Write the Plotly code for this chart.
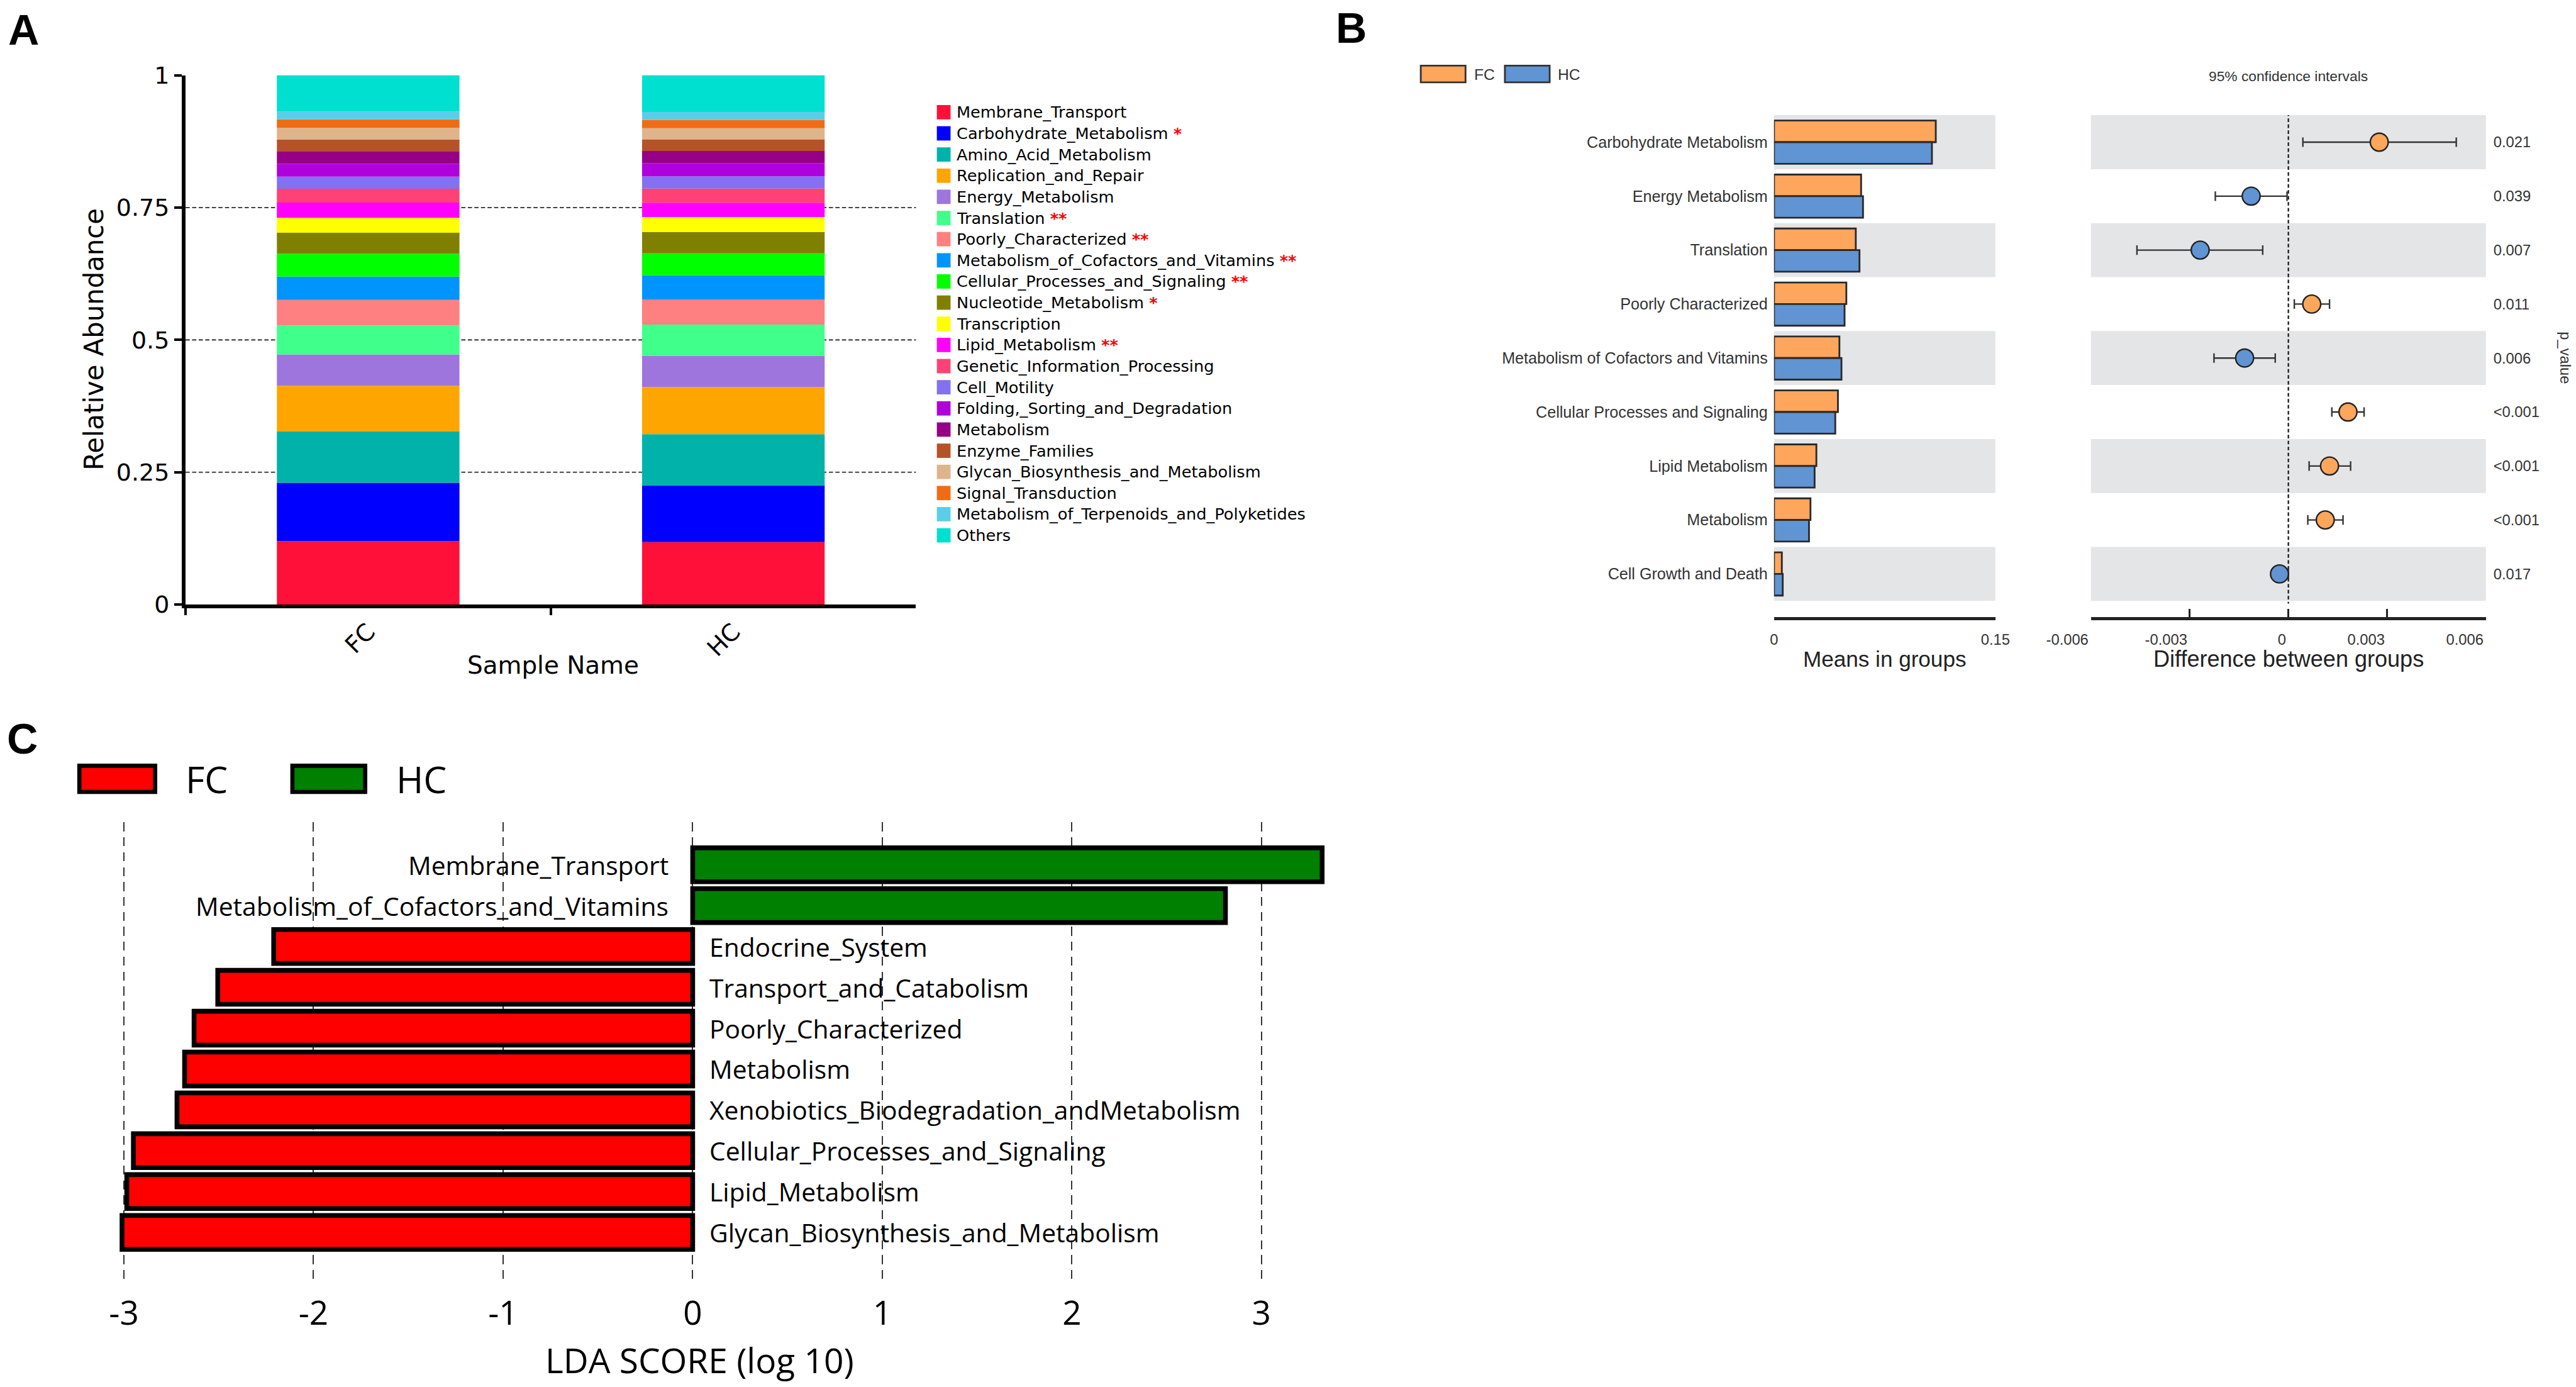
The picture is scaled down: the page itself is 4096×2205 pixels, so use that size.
import numpy as np
import plotly.graph_objects as go

W_REF, H_REF = 4317, 2324
R = 4096 / W_REF


def X(p):
    return p / W_REF


def Y(p):
    return 1 - p / H_REF


def S(v):
    return v * R


def SI(v):
    return int(round(v * R))


# ---------------- Panel A data ----------------
samples_A = ["FC", "HC"]
pathways_A = [
    "Membrane_Transport", "Carbohydrate_Metabolism", "Amino_Acid_Metabolism",
    "Replication_and_Repair", "Energy_Metabolism", "Translation",
    "Poorly_Characterized", "Metabolism_of_Cofactors_and_Vitamins",
    "Cellular_Processes_and_Signaling", "Nucleotide_Metabolism", "Transcription",
    "Lipid_Metabolism", "Genetic_Information_Processing", "Cell_Motility",
    "Folding,_Sorting_and_Degradation", "Metabolism", "Enzyme_Families",
    "Glycan_Biosynthesis_and_Metabolism", "Signal_Transduction",
    "Metabolism_of_Terpenoids_and_Polyketides", "Others",
]
signif_A = ["", "*", "", "", "", "**", "**", "**", "**", "*", "", "**",
            "", "", "", "", "", "", "", "", ""]
abund_FC = [0.120, 0.110, 0.0975, 0.086, 0.059, 0.055, 0.048, 0.044, 0.043, 0.040,
            0.028, 0.029, 0.026, 0.023, 0.024, 0.024, 0.022, 0.022, 0.016, 0.015, 0.0685]
abund_HC = [0.118, 0.107, 0.097, 0.089, 0.059, 0.059, 0.0475, 0.0455, 0.0415, 0.0405,
            0.028, 0.027, 0.027, 0.023, 0.025, 0.023, 0.022, 0.021, 0.0155, 0.015, 0.0695]
colors_A = ["#ff1038", "#0000ff", "#00b2a9", "#ffa500", "#9e75dd", "#40ff8a",
            "#ff8080", "#0094ff", "#00ff00", "#808000", "#ffff00", "#ff00ff",
            "#ff4275", "#8470f2", "#b000dc", "#950086", "#b65228", "#deb48a",
            "#f06c14", "#5bcde9", "#00e0d0"]
yticks_A = [0, 0.25, 0.5, 0.75, 1]
yticktext_A = ["0", "0.25", "0.5", "0.75", "1"]
grid_A = [0.25, 0.5, 0.75]

# ---------------- Panel B data ----------------
cats_B = ["Carbohydrate Metabolism", "Energy Metabolism", "Translation",
          "Poorly Characterized", "Metabolism of Cofactors and Vitamins",
          "Cellular Processes and Signaling", "Lipid Metabolism", "Metabolism",
          "Cell Growth and Death"]
mean_FC_B = [0.1096, 0.059, 0.0554, 0.049, 0.0443, 0.0433, 0.0287, 0.0247, 0.0053]
mean_HC_B = [0.107, 0.0603, 0.0579, 0.0478, 0.0457, 0.0415, 0.0275, 0.0237, 0.0059]
diff_B = [0.00276, -0.00113, -0.00268, 0.00071, -0.00133, 0.00181, 0.00125, 0.00112, -0.00027]
ci_low_B = [0.00044, -0.00222, -0.0046, 0.00018, -0.00226, 0.00132, 0.00063, 0.00059, -0.00047]
ci_high_B = [0.0051, -0.00004, -0.00078, 0.00125, -0.0004, 0.0023, 0.00189, 0.00166, 0.0]
pvals_B = ["0.021", "0.039", "0.007", "0.011", "0.006", "<0.001", "<0.001", "<0.001", "0.017"]
means_ticks_B = [0, 0.15]
means_ticktext_B = ["0", "0.15"]
diff_ticks_B = [-0.006, -0.003, 0, 0.003, 0.006]
diff_ticktext_B = ["-0.006", "-0.003", "0", "0.003", "0.006"]

# ---------------- Panel C data ----------------
feats_C = ["Membrane_Transport", "Metabolism_of_Cofactors_and_Vitamins",
           "Endocrine_System", "Transport_and_Catabolism", "Poorly_Characterized",
           "Metabolism", "Xenobiotics_Biodegradation_andMetabolism",
           "Cellular_Processes_and_Signaling", "Lipid_Metabolism",
           "Glycan_Biosynthesis_and_Metabolism"]
lda_C = [3.32, 2.81, -2.21, -2.505, -2.63, -2.68, -2.72, -2.95, -2.985, -3.01]
lda_ticks_C = [-3, -2, -1, 0, 1, 2, 3]
lda_ticktext_C = ["-3", "-2", "-1", "0", "1", "2", "3"]

ORANGE = "#fea65c"
BLUE = "#6094d2"
RED_C = "#ff0000"
GREEN_C = "#008000"

FA = "DejaVu Sans"
FB = "Liberation Sans, Arial, sans-serif"
FC_ = "Open Sans, Noto Sans, sans-serif"

fig = go.Figure()

# ---------- Panel A bars ----------
base_fc = np.concatenate([[0.0], np.cumsum(abund_FC)[:-1]])
base_hc = np.concatenate([[0.0], np.cumsum(abund_HC)[:-1]])
for i, name in enumerate(pathways_A):
    fig.add_trace(go.Bar(
        x=samples_A, y=[abund_FC[i], abund_HC[i]], base=[base_fc[i], base_hc[i]],
        marker=dict(color=colors_A[i], line=dict(width=0)), width=0.5,
        xaxis="x", yaxis="y", name=name, showlegend=False))

# ---------- Panel B bars ----------
fig.add_trace(go.Bar(
    y=cats_B, x=mean_FC_B, orientation="h", width=0.4, offset=-0.4,
    marker=dict(color=ORANGE, line=dict(color="#2a2a2a", width=S(3))),
    xaxis="x2", yaxis="y2", name="FC", showlegend=False))
fig.add_trace(go.Bar(
    y=cats_B, x=mean_HC_B, orientation="h", width=0.4, offset=0.0,
    marker=dict(color=BLUE, line=dict(color="#2a2a2a", width=S(3))),
    xaxis="x2", yaxis="y2", name="HC", showlegend=False))

diff_arr = np.array(diff_B)
fig.add_trace(go.Scatter(
    x=diff_B, y=cats_B, mode="markers", xaxis="x3", yaxis="y3",
    marker=dict(size=S(30), color=[ORANGE if d > 0 else BLUE for d in diff_B],
                line=dict(color="#222222", width=S(2.5))),
    error_x=dict(type="data", symmetric=False,
                 array=np.array(ci_high_B) - diff_arr,
                 arrayminus=diff_arr - np.array(ci_low_B),
                 color="#333333", thickness=S(2.5), width=S(8)),
    showlegend=False))

# ---------- Panel C bars ----------
fig.add_trace(go.Bar(
    y=feats_C, x=lda_C, orientation="h", width=0.83,
    marker=dict(color=[GREEN_C if v > 0 else RED_C for v in lda_C],
                line=dict(color="black", width=S(8))),
    xaxis="x4", yaxis="y4", showlegend=False))

shapes = []
annotations = []

# Panel A dashed grid
for g in grid_A:
    shapes.append(dict(type="line", xref="x domain", x0=0, x1=1, yref="y", y0=g, y1=g,
                       line=dict(color="#444444", width=S(2.2), dash="%gpx,%gpx" % (S(7), S(4))),
                       layer="below"))

# Panel A legend
for i, name in enumerate(pathways_A):
    yc = 188 + i * 35.45
    shapes.append(dict(type="rect", xref="paper", yref="paper",
                       x0=X(1570), x1=X(1593), y0=Y(yc + 12), y1=Y(yc - 12),
                       fillcolor=colors_A[i], line=dict(width=0)))
    txt = name
    if signif_A[i]:
        txt += " <span style='color:#ff0000'><b>%s</b></span>" % signif_A[i]
    annotations.append(dict(text=txt, x=X(1601), y=Y(yc), xref="paper", yref="paper",
                            xanchor="left", yanchor="middle", showarrow=False,
                            font=dict(family=FA, size=S(27), color="black")))

annotations.append(dict(text="Relative Abundance", x=X(158), y=Y(568), xref="paper", yref="paper",
                        textangle=-90, showarrow=False, xanchor="center", yanchor="middle",
                        font=dict(family=FA, size=S(44), color="black")))
annotations.append(dict(text="Sample Name", x=X(927), y=Y(1115), xref="paper", yref="paper",
                        showarrow=False, xanchor="center", yanchor="middle",
                        font=dict(family=FA, size=S(41), color="black")))

# Panel B bands
for i in range(0, len(cats_B), 2):
    for xr, yr in (("x2 domain", "y2"), ("x3 domain", "y3")):
        shapes.append(dict(type="rect", xref=xr, x0=0, x1=1, yref=yr, y0=i - 0.5, y1=i + 0.5,
                           fillcolor="#e4e5e6", line=dict(width=0), layer="below"))
shapes.append(dict(type="line", xref="x3", x0=0, x1=0, yref="y3", y0=-0.55, y1=8.55,
                   line=dict(color="#222222", width=S(2.5), dash="%gpx,%gpx" % (S(6), S(4))),
                   layer="below"))

# Panel B legend
for x0, col, lab in ((2381, ORANGE, "FC"), (2522, BLUE, "HC")):
    shapes.append(dict(type="rect", xref="paper", yref="paper", x0=X(x0), x1=X(x0 + 75),
                       y0=Y(138), y1=Y(110), fillcolor=col,
                       line=dict(color="#333333", width=S(3))))
    annotations.append(dict(text=lab, x=X(x0 + 87), y=Y(125), xref="paper", yref="paper",
                            xanchor="left", yanchor="middle", showarrow=False,
                            font=dict(family=FB, size=S(26), color="#333333")))

annotations.append(dict(text="95% confidence intervals", x=X(3835), y=Y(128), xref="paper",
                        yref="paper", showarrow=False, xanchor="center", yanchor="middle",
                        font=dict(family=FB, size=S(24), color="#333333")))
annotations.append(dict(text="Means in groups", x=X(3158), y=Y(1104), xref="paper",
                        yref="paper", showarrow=False, xanchor="center", yanchor="middle",
                        font=dict(family=FB, size=S(37), color="#222222")))
annotations.append(dict(text="Difference between groups", x=X(3835), y=Y(1104), xref="paper",
                        yref="paper", showarrow=False, xanchor="center", yanchor="middle",
                        font=dict(family=FB, size=S(38), color="#222222")))
annotations.append(dict(text="p_value", x=X(4299), y=Y(600), xref="paper", yref="paper",
                        textangle=90, showarrow=False, xanchor="center", yanchor="middle",
                        font=dict(family=FB, size=S(25), color="#333333")))

# Panel C labels
for i, (feat, v) in enumerate(zip(feats_C, lda_C)):
    if v > 0:
        annotations.append(dict(text=feat, x=0, y=i, xref="x4", yref="y4", xanchor="right",
                                yanchor="middle", xshift=-S(38), showarrow=False,
                                font=dict(family=FC_, size=S(43), color="black")))
    else:
        annotations.append(dict(text=feat, x=0, y=i, xref="x4", yref="y4", xanchor="left",
                                yanchor="middle", xshift=S(26), showarrow=False,
                                font=dict(family=FC_, size=S(43), color="black")))

# Panel C legend
for x0, x1, col, lab, tx in ((133, 260, RED_C, "FC", 309), (490, 612, GREEN_C, "HC", 662)):
    shapes.append(dict(type="rect", xref="paper", yref="paper", x0=X(x0), x1=X(x1),
                       y0=Y(1327), y1=Y(1283), fillcolor=col,
                       line=dict(color="black", width=S(7))))
    annotations.append(dict(text=lab, x=X(tx), y=Y(1305), xref="paper", yref="paper",
                            xanchor="left", yanchor="middle", showarrow=False,
                            font=dict(family=FC_, size=S(62), color="black")))

annotations.append(dict(text="LDA SCORE (log 10)", x=X(1172), y=Y(2278), xref="paper",
                        yref="paper", showarrow=False, xanchor="center", yanchor="middle",
                        font=dict(family=FC_, size=S(58), color="black")))

# Panel letters
for lab, x, y in (("A", 12, 50), ("B", 2236, 46), ("C", 10, 1237)):
    annotations.append(dict(text="<b>%s</b>" % lab, x=X(x), y=Y(y), xref="paper", yref="paper",
                            xanchor="left", yanchor="middle", showarrow=False,
                            font=dict(family=FB, size=S(72), color="black")))

axis_font_A = dict(family=FA, size=S(40), color="black")
tick_font_B = dict(family=FB, size=S(25), color="#333333")

fig.update_layout(
    template="none",
    width=4096, height=2205, autosize=False,
    margin=dict(l=0, r=0, t=0, b=0, pad=0),
    paper_bgcolor="white", plot_bgcolor="white",
    barmode="overlay", showlegend=False,
    shapes=shapes, annotations=annotations,
    xaxis=dict(domain=[X(311), X(1535)], anchor="y", type="category", automargin=False,
               categoryorder="array", categoryarray=samples_A, range=[-0.5, 1.5],
               showline=True, linecolor="black", linewidth=S(6),
               ticks="outside", tickson="boundaries", ticklen=S(12), tickwidth=S(4),
               tickcolor="black", tickangle=-45, tickfont=axis_font_A,
               showgrid=False, zeroline=False),
    yaxis=dict(domain=[Y(1013), Y(126)], anchor="x", range=[0, 1], automargin=False,
               tickmode="array", tickvals=yticks_A, ticktext=yticktext_A,
               showline=True, linecolor="black", linewidth=S(6),
               ticks="outside", ticklen=S(13), tickwidth=S(4), tickcolor="black",
               tickfont=axis_font_A, showgrid=False, zeroline=False),
    xaxis2=dict(domain=[X(2973), X(3344)], anchor="y2", range=[0, 0.15], automargin=False,
                tickmode="array", tickvals=means_ticks_B, ticktext=means_ticktext_B,
                showline=True, linecolor="#222222", linewidth=S(5),
                ticks="inside", ticklen=S(14), tickwidth=S(3), tickcolor="#222222",
                tickfont=tick_font_B, ticklabelstandoff=SI(12),
                showgrid=False, zeroline=False),
    yaxis2=dict(domain=[Y(1034), Y(193)], anchor="x2", type="category", automargin=False,
                categoryorder="array", categoryarray=cats_B, range=[8.8, -0.5],
                showline=False, ticks="", tickfont=dict(family=FB, size=S(26.5), color="#333333"),
                ticklabelstandoff=SI(10), showgrid=False, zeroline=False),
    xaxis3=dict(domain=[X(3504), X(4166)], anchor="y3", range=[-0.006, 0.006], automargin=False,
                tickmode="array", tickvals=diff_ticks_B, ticktext=diff_ticktext_B,
                ticklabelposition="outside left",
                showline=True, linecolor="#222222", linewidth=S(5),
                ticks="inside", ticklen=S(14), tickwidth=S(3), tickcolor="#222222",
                tickfont=tick_font_B, ticklabelstandoff=SI(12),
                showgrid=False, zeroline=False),
    yaxis3=dict(domain=[Y(1034), Y(193)], anchor="x3", side="right", type="category",
                automargin=False,
                categoryorder="array", categoryarray=cats_B, range=[8.8, -0.5],
                tickmode="array", tickvals=cats_B, ticktext=pvals_B,
                showline=False, ticks="", tickfont=tick_font_B,
                ticklabelstandoff=SI(12), showgrid=False, zeroline=False),
    xaxis4=dict(domain=[X(160), X(2257)], anchor="y4", range=[-3.15, 3.45], automargin=False,
                tickmode="array", tickvals=lda_ticks_C, ticktext=lda_ticktext_C,
                showgrid=True, gridcolor="#333333", gridwidth=S(2),
                griddash="%gpx,%gpx" % (S(15), S(10)),
                zeroline=False, showline=False, ticks="",
                tickfont=dict(family=FC_, size=S(56), color="black"),
                ticklabelstandoff=SI(10)),
    yaxis4=dict(domain=[Y(2153), Y(1378)], anchor="x4", type="category", automargin=False,
                categoryorder="array", categoryarray=feats_C, range=[10.286, -1.037],
                showticklabels=False, showgrid=False, zeroline=False, showline=False,
                ticks=""),
)

fig.write_html("out.html", config={"displayModeBar": False},
               post_script="document.body.style.margin='0';document.body.style.overflow='hidden';")
